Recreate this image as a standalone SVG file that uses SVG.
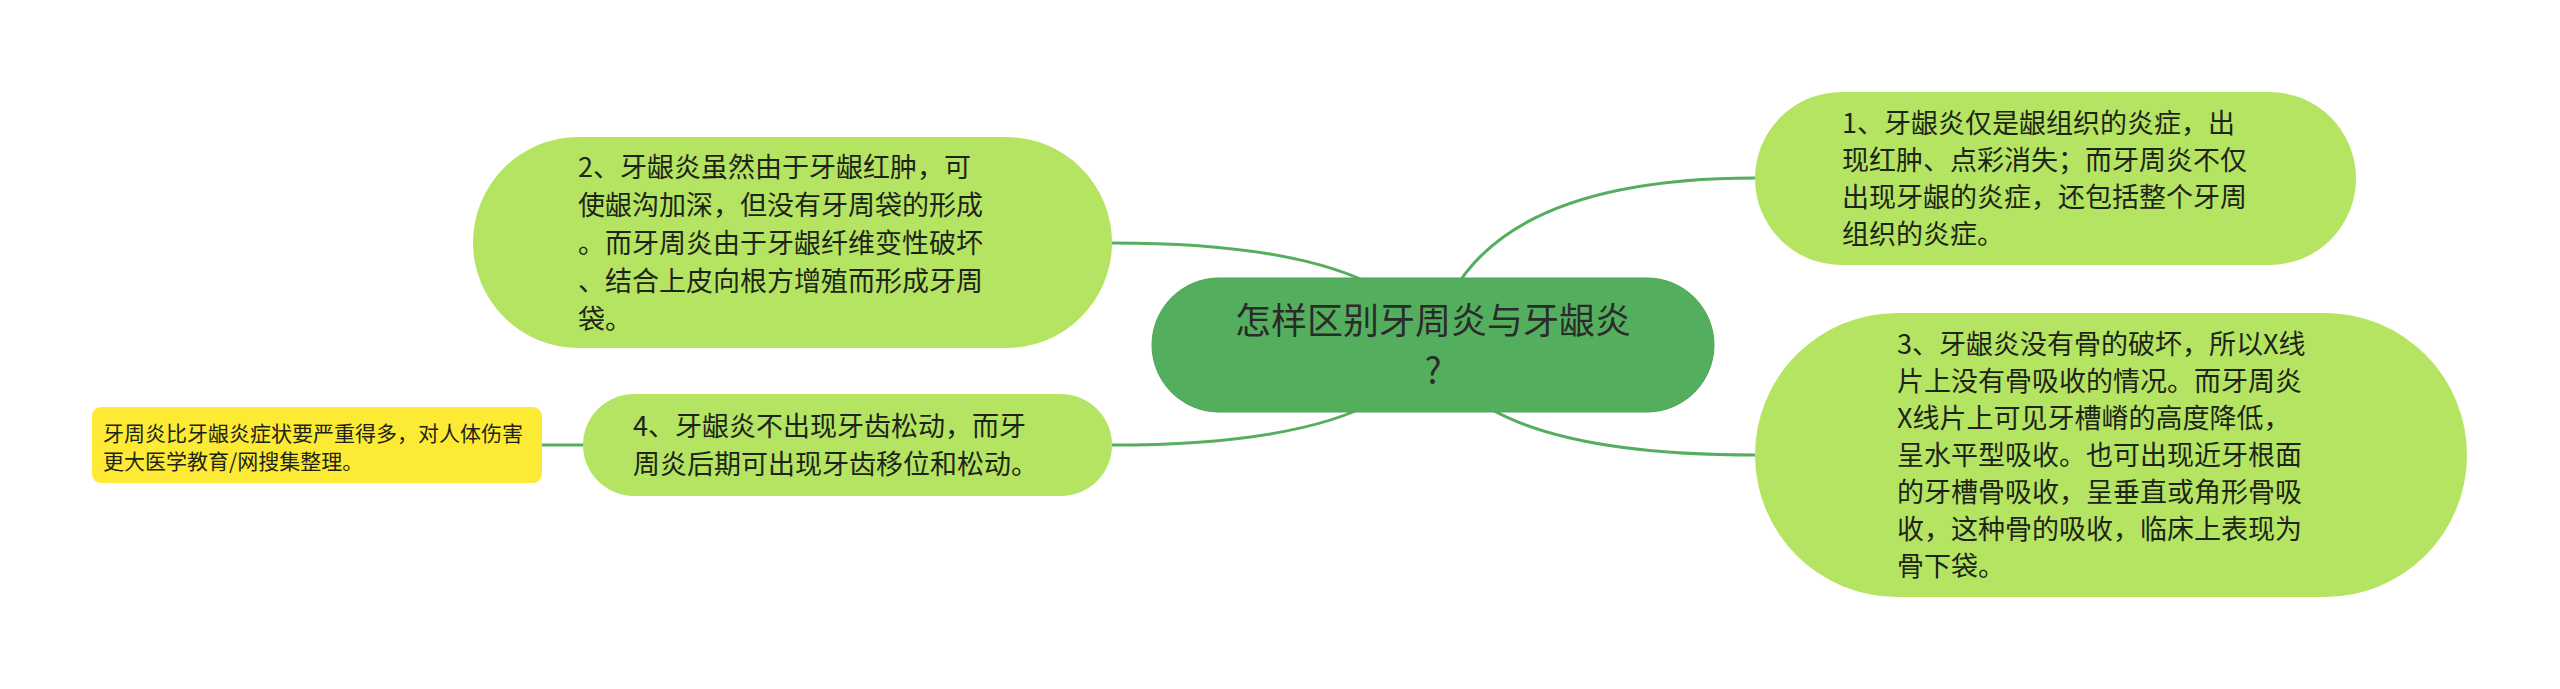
<svg xmlns="http://www.w3.org/2000/svg" width="2560" height="689" viewBox="0 0 2560 689">
<style>
.conn{fill:none;stroke:#55ae5d;stroke-width:3}
.sub{fill:#b4e462}
.root{fill:#53af5e;stroke:#4ea458;stroke-width:1}
.note{fill:#fdea35}
.t{font-family:"Noto Sans CJK SC","Noto Sans",sans-serif;fill:#1e2418}
.ts{font-size:27px}
.tr{font-size:36px;fill:#2b2b2b}
.tn{font-size:21px}
</style>
<rect width="2560" height="689" fill="#ffffff"/>
<g id="connectors">
<path class="conn" d="M1433 344 Q1390 243 1112 243"/>
<path class="conn" d="M1433 344 Q1390 445 1112 445"/>
<path class="conn" d="M1433 344 Q1470 178 1755 178"/>
<path class="conn" d="M1433 344 Q1470 455 1755 455"/>
<path class="conn" d="M583 445 L542 445"/>
</g>
<g id="root">
<rect class="root" x="1152" y="278" width="562" height="134" rx="67"/>
<text class="t tr" text-anchor="middle"><tspan x="1433" y="334">怎样区别牙周炎与牙龈炎</tspan><tspan x="1433" y="384">?</tspan></text>
</g>
<g id="node1">
<rect class="sub" x="1755" y="92" width="601" height="173" rx="86.5"/>
<text class="t ts"><tspan x="1842" y="133">1、牙龈炎仅是龈组织的炎症，出</tspan><tspan x="1842" y="170">现红肿、点彩消失；而牙周炎不仅</tspan><tspan x="1842" y="207">出现牙龈的炎症，还包括整个牙周</tspan><tspan x="1842" y="244">组织的炎症。</tspan></text>
</g>
<g id="node2">
<rect class="sub" x="473" y="137" width="639" height="211" rx="105.5"/>
<text class="t ts"><tspan x="578" y="177">2、牙龈炎虽然由于牙龈红肿，可</tspan><tspan x="578" y="215">使龈沟加深，但没有牙周袋的形成</tspan><tspan x="578" y="253">。而牙周炎由于牙龈纤维变性破坏</tspan><tspan x="578" y="291">、结合上皮向根方增殖而形成牙周</tspan><tspan x="578" y="329">袋。</tspan></text>
</g>
<g id="node3">
<rect class="sub" x="1755" y="313" width="712" height="284" rx="142"/>
<text class="t ts"><tspan x="1897" y="354">3、牙龈炎没有骨的破坏，所以X线</tspan><tspan x="1897" y="391">片上没有骨吸收的情况。而牙周炎</tspan><tspan x="1897" y="428">X线片上可见牙槽嵴的高度降低，</tspan><tspan x="1897" y="465">呈水平型吸收。也可出现近牙根面</tspan><tspan x="1897" y="502">的牙槽骨吸收，呈垂直或角形骨吸</tspan><tspan x="1897" y="539">收，这种骨的吸收，临床上表现为</tspan><tspan x="1897" y="576">骨下袋。</tspan></text>
</g>
<g id="node4">
<rect class="sub" x="583" y="394" width="529" height="102" rx="51"/>
<text class="t ts"><tspan x="633" y="436">4、牙龈炎不出现牙齿松动，而牙</tspan><tspan x="633" y="474">周炎后期可出现牙齿移位和松动。</tspan></text>
</g>
<g id="note">
<rect class="note" x="92" y="407" width="450" height="76" rx="9"/>
<text class="t tn"><tspan x="103" y="441">牙周炎比牙龈炎症状要严重得多，对人体伤害</tspan><tspan x="103" y="469">更大医学教育/网搜集整理。</tspan></text>
</g>
</svg>
